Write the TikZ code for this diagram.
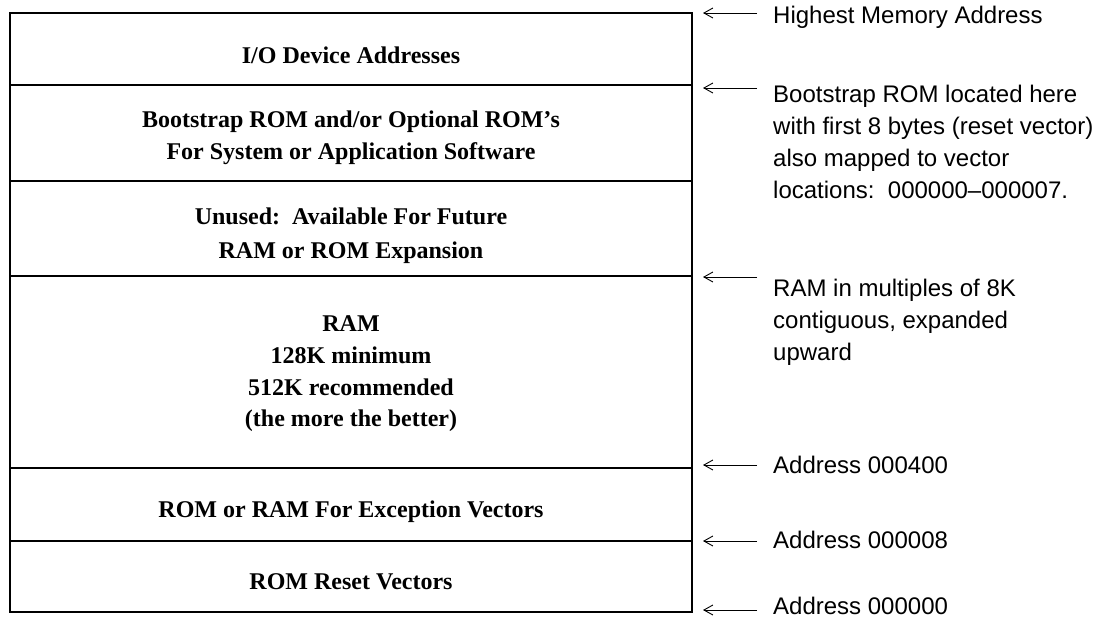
\documentclass[tikz,border=0pt]{standalone}
\usepackage{fontspec}
\setmainfont{Liberation Serif}
\newfontfamily\notefont{Liberation Sans}
\usetikzlibrary{arrows.meta}

\tikzset{
  frame/.style={line width=1.5pt, line cap=rect},
  divider/.style={line width=1.2pt},
  region/.style={font=\fontsize{24}{28}\selectfont\bfseries, inner sep=0pt, anchor=mid},
  note/.style={font=\notefont\fontsize{24}{28}\selectfont, inner sep=0pt, anchor=mid west},
  pointer/.style={line width=0.9pt, -{Straight Barb[length=9pt,width=10pt,line width=0.9pt]}}
}

\begin{document}
\begin{tikzpicture}[x=1pt,y=-1pt]
  \useasboundingbox (0,0) rectangle (1110,623);

  % memory map column
  \coordinate (tl) at (10,13);
  \coordinate (br) at (692,612);
  \draw[frame] (tl) rectangle (br);
  \foreach \y/\n in {85/a,181/b,276/c,468/d,541/e}{
    \coordinate (l\n) at (10,\y);
    \coordinate (r\n) at (692,\y);
    \draw[divider] (l\n) -- (r\n);
  }

  % region labels
  \node[region] (io)   at (351,61)  {I/O Device Addresses};
  \node[region] (bs1)  at (351,125) {Bootstrap ROM and/or Optional ROM’s};
  \node[region] (bs2)  at (351,157) {For System or Application Software};
  \node[region] (un1)  at (351,222) {Unused:\ \ Available For Future};
  \node[region] (un2)  at (351,256) {RAM or ROM Expansion};
  \node[region] (ram1) at (351,329) {RAM};
  \node[region] (ram2) at (351,361) {128K minimum};
  \node[region] (ram3) at (351,393) {512K recommended};
  \node[region] (ram4) at (351,424) {(the more the better)};
  \node[region] (exc)  at (351,515) {ROM or RAM For Exception Vectors};
  \node[region] (rst)  at (351,587) {ROM Reset Vectors};

  % address annotations
  \node[note] (n1)  at (773,21)  {Highest Memory Address};
  \node[note] (n2)  at (773,100) {Bootstrap ROM located here};
  \node[note] (n2b) at (773,132) {with first 8 bytes (reset vector)};
  \node[note] (n2c) at (773,164) {also mapped to vector};
  \node[note] (n2d) at (773,196) {locations:\ \ 000000–000007.};
  \node[note] (n3)  at (773,294) {RAM in multiples of 8K};
  \node[note] (n3b) at (773,326) {contiguous, expanded};
  \node[note] (n3c) at (773,358) {upward};
  \node[note] (n4)  at (773,471) {Address 000400};
  \node[note] (n5)  at (773,546) {Address 000008};
  \node[note] (n6)  at (773,612) {Address 000000};

  % pointers from the annotations to the boundaries
  \foreach \y/\n in {13/1,88/2,277/3,465/4,541/5,610/6}{
    \coordinate (s\n) at (757,\y);
    \coordinate (t\n) at (703,\y);
    \draw[pointer] (s\n) -- (t\n);
  }
\end{tikzpicture}
\end{document}
